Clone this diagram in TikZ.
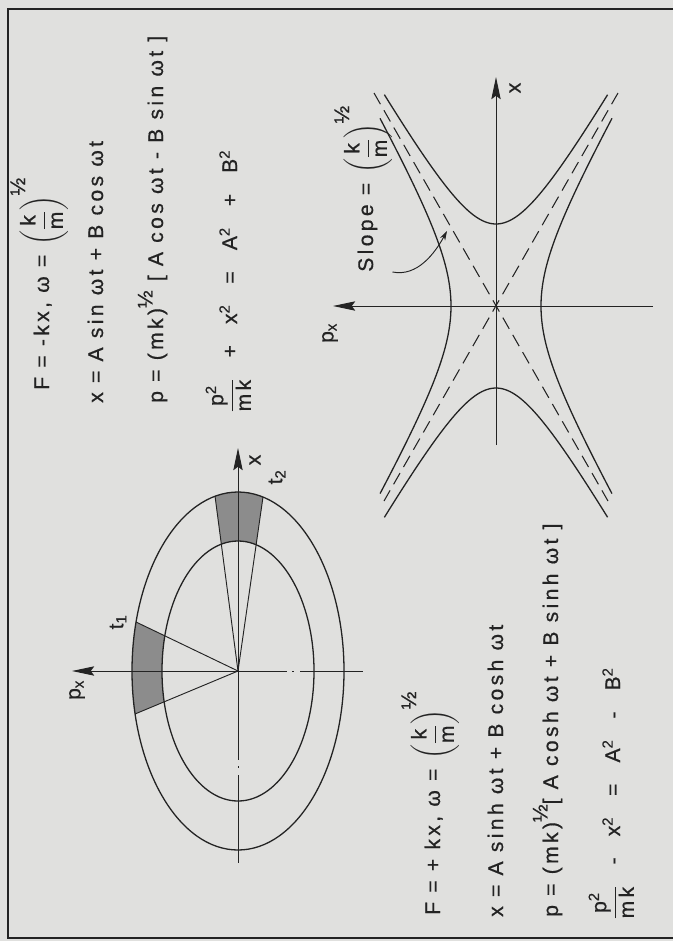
\documentclass[tikz,border=0pt]{standalone}
\usepackage{amsmath}
\usepackage{fontspec}
\usepackage{tikz}
\usetikzlibrary{arrows.meta, calc}
\newfontfamily\eqfont[LetterSpace=16, FakeBold=0.6]{Liberation Sans}
\definecolor{ink}{RGB}{35,35,35}
\definecolor{paper}{RGB}{224,224,222}
\definecolor{stipple}{RGB}{140,140,140}
\newcommand{\halfsup}{\raisebox{0.5em}{½}}
\newcommand{\gap}{\hspace{1em}}
\newcommand{\kmroot}{$\left(\dfrac{\text{k}}{\text{m}}\right)^{\textstyle\text{½}}$}
\tikzset{
  frame/.style={line width=1.2pt, color=ink},
  curve/.style={line width=1.1pt, color=ink},
  axis/.style={line width=0.8pt, color=ink},
  axisarrow/.style={-{Stealth[length=19pt, width=8pt, inset=3pt]}, line width=0.8pt, color=ink},
  asym/.style={dash pattern=on 11pt off 6pt, line width=0.9pt, color=ink},
  sector/.style={fill=stipple},
  eqline/.style={rotate=90, anchor=base west, inner sep=0pt, color=ink,
    font=\eqfont\fontsize{18}{21}\selectfont},
  axlabel/.style={rotate=90, inner sep=1pt, color=ink,
    font=\eqfont\fontsize{18}{21}\selectfont},
  pointer/.style={-{Stealth[length=8pt, width=5pt]}, line width=0.8pt, color=ink}
}

\begin{document}
\begin{tikzpicture}[x=0.03cm, y=-0.03cm]
  \fill[paper] (0,0) rectangle (673,941);
  \draw[frame] (673,9) -- (8,9) -- (8,938) -- (673,938);

  % Harmonic oscillator: equations
  \node[eqline] (eqa1) at (49,390) {F = -kx, ω = \kmroot};
  \node[eqline] (eqa2) at (103,403) {x = A sin ωt + B cos ωt};
  \node[eqline] (eqa3) at (163,403) {p = (mk)\halfsup\ [ A cos ωt - B sin ωt ]};
  \node[eqline] (eqa4) at (237,413) {$\dfrac{\text{p\textsuperscript{2}}}{\text{mk}}$\gap+\gap x\textsuperscript{2}\gap=\gap A\textsuperscript{2}\gap+\gap B\textsuperscript{2}};

  % Ellipse in phase space
  \coordinate (O1) at (238,671);
  \coordinate (t1a) at (136,622);
  \coordinate (t1b) at (135,714);
  \coordinate (t2a) at (215,496);
  \coordinate (t2b) at (263,497);
  \foreach \a/\b in {t1a/t1b, t2a/t2b} {
    \begin{scope}
      \clip (O1) -- ($(O1)!1.3!(\a)$) -- ($(O1)!1.3!(\b)$) -- cycle;
      \fill[sector, even odd rule] (O1) ellipse [x radius=106, y radius=179]
        (O1) ellipse [x radius=76, y radius=130];
    \end{scope}
  }
  \draw[curve] (O1) ellipse [x radius=106, y radius=179];
  \draw[curve] (O1) ellipse [x radius=76, y radius=130];
  \foreach \p in {t1a, t1b, t2a, t2b} {
    \draw[axis] (O1) -- (\p);
  }
  \draw[axisarrow] (O1) -- (72,671);
  \draw[axisarrow] (O1) -- (238,448);
  % centre lines
  \draw[axis, line width=0.6pt] (O1) -- (287,671) (292,671) -- (294,671) (300,671) -- (363,671);
  \draw[axis, line width=0.6pt] (O1) -- (238,760) (238,766) -- (238,768) (238,775) -- (238,863);
  \node[axlabel] (px1) at (77,690) {p\textsubscript{x}};
  \node[axlabel] (x1) at (255,460) {x};
  \node[axlabel] (t1) at (118,622) {t\textsubscript{1}};
  \node[axlabel] (t2) at (277,477) {t\textsubscript{2}};

  % Inverted oscillator: hyperbolas
  \coordinate (O2) at (496,306);
  \draw[asym] ($(O2)+(-122,-213)$) -- ($(O2)+(112,195)$);
  \draw[asym] ($(O2)+(122,-213)$) -- ($(O2)+(-112,195)$);
  \draw[curve] plot[domain=-1.6:1.6, samples=60, smooth] ({496+47*sinh(\x)}, {306-82*cosh(\x)});
  \draw[curve] plot[domain=-1.6:1.6, samples=60, smooth] ({496+47*sinh(\x)}, {306+82*cosh(\x)});
  \draw[curve] plot[domain=-1.6:1.6, samples=60, smooth] ({496-45*cosh(\x)}, {306+79*sinh(\x)});
  \draw[curve] plot[domain=-1.6:1.6, samples=60, smooth] ({496+45*cosh(\x)}, {306+79*sinh(\x)});
  \draw[axisarrow] (496,445) -- (496,77);
  \draw[axisarrow] (653,306) -- (333,306);
  \node[axlabel] (px2) at (330,333) {p\textsubscript{x}};
  \node[axlabel] (x2) at (515,88) {x};
  \node[eqline] (slope) at (373,272) {Slope = \kmroot};
  \coordinate (slopetip) at (447,231);
  \draw[pointer] (slope.south west) .. controls +(25,5) and +(-12,22) .. (slopetip);

  % Inverted oscillator: equations
  \node[eqline] (eqb1) at (440,915) {F = + kx, ω = \kmroot};
  \node[eqline] (eqb2) at (503,917) {x = A sinh ωt + B cosh ωt};
  \node[eqline] (eqb3) at (558,917) {p = (mk)\halfsup[ A cosh ωt + B sinh ωt ]};
  \node[eqline] (eqb4) at (620,920) {$\dfrac{\text{p\textsuperscript{2}}}{\text{mk}}$\gap-\gap x\textsuperscript{2}\gap=\gap A\textsuperscript{2}\gap-\gap B\textsuperscript{2}};
\end{tikzpicture}
\end{document}
